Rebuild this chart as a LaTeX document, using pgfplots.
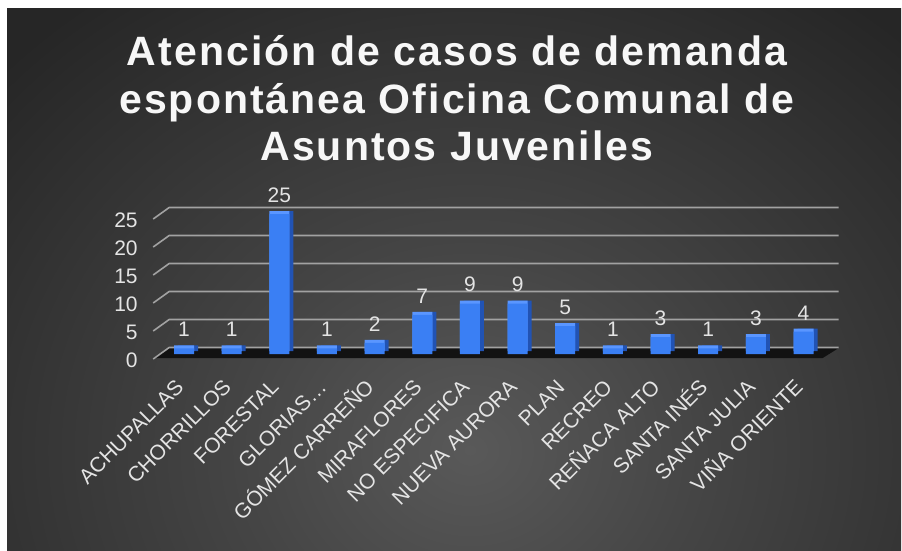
\documentclass[border=0pt]{standalone}
\usepackage{fontspec}
\setmainfont{Liberation Sans}
\newfontfamily\titlefont[LetterSpace=5]{Liberation Sans}
\usepackage{pgfplots}
\usepackage{pgfplotstable}
\pgfplotsset{compat=1.18}

\definecolor{bgC}{HTML}{595959}
\definecolor{bgM}{HTML}{454545}
\definecolor{bgD}{HTML}{262626}
\definecolor{frontblue}{HTML}{3A7FF4}
\definecolor{sideblue}{HTML}{2153B4}
\definecolor{topblue}{HTML}{5A96FF}
\definecolor{gridc}{HTML}{A2A2A2}
\definecolor{floorc}{HTML}{121212}
\definecolor{txt}{HTML}{E4E4E4}
\pgfdeclareradialshading{bgshade}{\pgfpointorigin}{color(0bp)=(bgC); color(9bp)=(bgM); color(25bp)=(bgD); color(50bp)=(bgD)}

\pgfplotstableread{
x y
0 1
1 1
2 25
3 1
4 2
5 7
6 9
7 9
8 5
9 1
10 3
11 1
12 3
13 4
}\casos

\newcommand{\tline}[2]{%
  \node[font=\titlefont\fontsize{41}{48}\selectfont\bfseries, text=white!94!gray, anchor=base] at (457,#1) {#2};
}

\begin{document}
\begin{tikzpicture}[x=1pt,y=1pt]
\fill[white] (0,0) rectangle (902,550);
\begin{scope}
\clip (7,0) rectangle (901,541);
\fill[bgD] (7,0) rectangle (901,541);
\shade[shading=bgshade] (470-640,100-560) rectangle (470+640,100+560);
\end{scope}

\tline{484}{Atención de casos de demanda}
\tline{436}{espontánea Oficina Comunal de}
\tline{389}{Asuntos Juveniles}

\begin{axis}[
  at={(160.2pt,196pt)}, anchor=south west,
  scale only axis, width=669.5pt, height=140pt,
  xmin=-0.5, xmax=13.55, ymin=0, ymax=25,
  clip=false,
  axis line style={draw=none},
  tick style={draw=none},
  /pgf/number format/assume math mode=true,
  ytick={0,5,10,15,20,25},
  yticklabel style={font=\fontsize{21}{21}\selectfont, text=txt, anchor=east, xshift=-19pt, yshift=-6pt},
  xtick={0,...,13},
  xticklabels={ACHUPALLAS, CHORRILLOS, FORESTAL, GLORIAS…, GÓMEZ CARREÑO, MIRAFLORES, NO ESPECIFICA, NUEVA AURORA, PLAN, RECREO, REÑACA ALTO, SANTA INÉS, SANTA JULIA, VIÑA ORIENTE},
  xticklabel style={font=\fontsize{21}{21}\selectfont, text=txt, inner sep=0pt, text height=15pt, text depth=0pt, xshift=-4.5pt, yshift=-29pt, rotate=45, anchor=east},
]
% floor
\fill[floorc] ([shift={(-7pt,-4pt)}]axis cs:-0.5,0) -- ([shift={(9pt,6pt)}]axis cs:-0.5,0) -- ([shift={(9pt,6pt)}]axis cs:13.55,0) -- ([shift={(-7pt,-4pt)}]axis cs:13.55,0) -- cycle;
% back wall gridlines
\pgfplotsinvokeforeach{0,5,10,15,20,25}{
  \draw[gridc, line width=1.6pt] ([shift={(-7pt,-5pt)}]axis cs:-0.5,#1) -- ([shift={(9pt,6.5pt)}]axis cs:-0.5,#1) -- ([shift={(9pt,6.5pt)}]axis cs:13.55,#1);
}
% side face
\addplot[ybar, bar width=20pt, bar shift=0pt, fill=sideblue, draw=none, xshift=4pt, yshift=3pt] table[x=x,y=y]{\casos};
% top face
\addplot[ybar, bar width=20pt, bar shift=0pt, fill=topblue, draw=none, yshift=3pt] table[x=x,y=y]{\casos};
% front face
\addplot[ybar, bar width=20pt, bar shift=0pt, fill=frontblue, draw=none,
  nodes near coords,
  nodes near coords style={font=\fontsize{21}{21}\selectfont, text=txt, anchor=south, yshift=8pt}] table[x=x,y=y]{\casos};
\end{axis}
\end{tikzpicture}
\end{document}
